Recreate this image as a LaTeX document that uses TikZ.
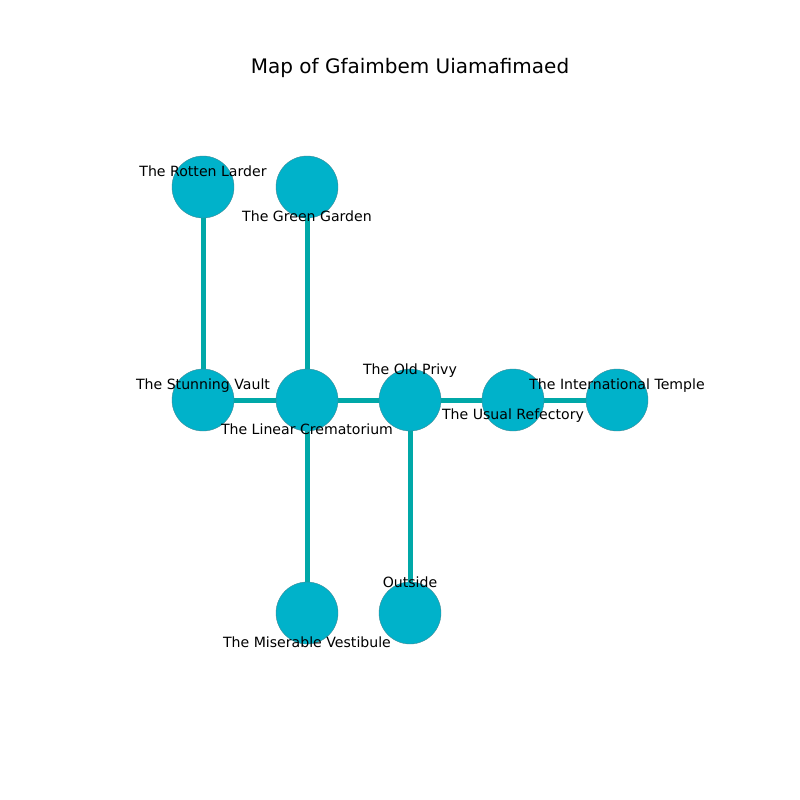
\documentclass[tikz,border=0pt]{standalone}
\usepackage{fontspec}
\setmainfont{DejaVu Sans}
\definecolor{nodefill}{HTML}{00B2CA}
\definecolor{nodeedge}{HTML}{3F8A96}
\definecolor{edgecol}{HTML}{00A8A8}
\begin{document}
\begin{tikzpicture}[x=1pt,y=-1pt,
  room/.style={circle,fill=nodefill,draw=nodeedge,line width=0.4pt,minimum size=62pt,inner sep=0pt},
  lbl/.style={font=\fontsize{14.1}{16}\selectfont,inner sep=0pt,anchor=base,yshift=-5pt},
  link/.style={draw=edgecol,line width=5pt}]
\useasboundingbox (0,0) rectangle (800,800);
\node[font=\fontsize{20}{24}\selectfont,anchor=base] (title) at (410,74) {Map of Gfaimbem Uiamafimaed};
\coordinate (rl) at (203,187);
\coordinate (gg) at (307,187);
\coordinate (sv) at (203,400);
\coordinate (lc) at (307,400);
\coordinate (op) at (410,400);
\coordinate (ur) at (513,400);
\coordinate (it) at (617,400);
\coordinate (mv) at (307,613);
\coordinate (out) at (410,613);
\draw[link] (rl) -- (sv);
\draw[link] (gg) -- (lc);
\draw[link] (sv) -- (lc);
\draw[link] (lc) -- (op);
\draw[link] (op) -- (ur);
\draw[link] (ur) -- (it);
\draw[link] (lc) -- (mv);
\draw[link] (op) -- (out);
\foreach \n in {rl,gg,sv,lc,op,ur,it,mv,out}{
  \node[room] (n\n) at (\n) {};
}
\node[lbl] (lrl) at (203,171) {The Rotten Larder};
\node[lbl] (lgg) at (307,216) {The Green Garden};
\node[lbl] (lsv) at (203,384) {The Stunning Vault};
\node[lbl] (llc) at (307,429) {The Linear Crematorium};
\node[lbl] (lop) at (410,369) {The Old Privy};
\node[lbl] (lur) at (513,414) {The Usual Refectory};
\node[lbl] (lit) at (617,384) {The International Temple};
\node[lbl] (lmv) at (307,642) {The Miserable Vestibule};
\node[lbl] (lout) at (410,582) {Outside};
\end{tikzpicture}
\end{document}
